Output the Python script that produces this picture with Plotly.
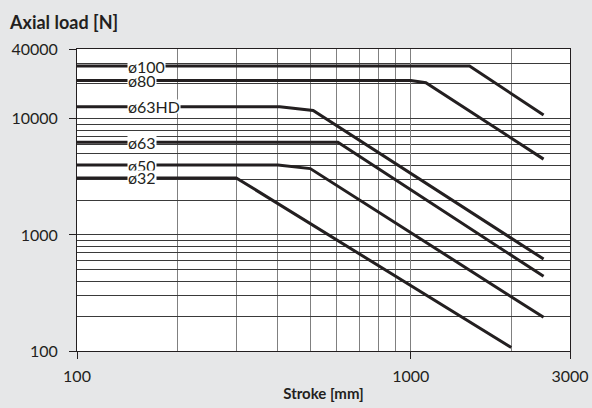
import math
import plotly.graph_objects as go

# ---- data ----
stroke_100 = [100, 1500, 2500]
load_100 = [28500, 28500, 10800]
stroke_80 = [100, 1000, 1110, 2500]
load_80 = [21400, 21400, 20500, 4500]
stroke_63hd = [100, 405, 510, 2500]
load_63hd = [12700, 12700, 11800, 620]
stroke_63 = [100, 605, 2500]
load_63 = [6300, 6300, 440]
stroke_50 = [100, 400, 500, 2500]
load_50 = [4000, 4000, 3730, 195]
stroke_32 = [100, 300, 2000]
load_32 = [3100, 3100, 107]

series = [
    ("ø100", stroke_100, load_100),
    ("ø80", stroke_80, load_80),
    ("ø63HD", stroke_63hd, load_63hd),
    ("ø63", stroke_63, load_63),
    ("ø50", stroke_50, load_50),
    ("ø32", stroke_32, load_32),
]

x_tickvals = [100, 1000, 3000]
x_ticktext = ["100", "1000", "3000"]
y_tickvals = [100, 1000, 10000, 40000]
y_ticktext = ["100", "1000", "10000", "40000"]
x_grid = [200, 300, 400, 500, 600, 700, 800, 900, 2000]
y_grid = [200, 300, 400, 500, 600, 700, 800, 900,
          2000, 3000, 4000, 5000, 6000, 7000, 8000, 9000,
          20000, 30000]

LINE = "#231f20"
FONT = "Lato"
W, H = 592, 408
ML, MR, MT, MB = 77, 22, 49, 57
PW, PH = W - ML - MR, H - MT - MB

fig = go.Figure()
for name, xs, ys in series:
    fig.add_trace(go.Scatter(x=xs, y=ys, mode="lines", name=name,
                             line=dict(color=LINE, width=3), showlegend=False))
    fig.add_annotation(x=math.log10(141), y=math.log10(ys[0]), xref="x", yref="y",
                       text=name, showarrow=False, xanchor="left", yanchor="middle",
                       bgcolor="white", borderpad=0, height=13,
                       font=dict(family=FONT, size=16, color=LINE))

# title of the y axis (top-left)
fig.add_annotation(x=(7 - ML) / PW, y=1 + (MT - 22) / PH, xref="paper", yref="paper",
                   text="<b>Axial load [N]</b>", showarrow=False,
                   xanchor="left", yanchor="middle",
                   font=dict(family=FONT, size=18, color=LINE))

fig.update_layout(
    width=W, height=H,
    margin=dict(l=ML, r=MR, t=MT, b=MB, autoexpand=False),
    paper_bgcolor="#e6e7e8",
    plot_bgcolor="white",
    font=dict(family=FONT, size=16, color=LINE),
)

fig.update_xaxes(
    type="log", range=[2, math.log10(3000)], automargin=False,
    tickvals=x_tickvals, ticktext=x_ticktext,
    ticks="outside", ticklen=7, tickcolor=LINE, tickwidth=1,
    ticklabelstandoff=4,
    showline=True, linecolor=LINE, linewidth=1, mirror=True,
    showgrid=True, gridcolor="#808080", gridwidth=1.4,
    minor=dict(tickvals=x_grid, showgrid=True, gridcolor="#808080", gridwidth=1.4, ticks=""),
    title=dict(text="<b>Stroke [mm]</b>", standoff=4,
               font=dict(family=FONT, size=15, color=LINE)),
    zeroline=False,
)
fig.update_yaxes(
    type="log", range=[2, math.log10(40000)], automargin=False,
    tickvals=y_tickvals, ticktext=y_ticktext,
    ticks="outside", ticklen=7, tickcolor=LINE, tickwidth=1,
    ticklabelstandoff=8,
    showline=True, linecolor=LINE, linewidth=1, mirror=True,
    showgrid=True, gridcolor="#3a3a3a", gridwidth=1,
    minor=dict(tickvals=y_grid, showgrid=True, gridcolor="#3a3a3a", gridwidth=1, ticks=""),
    zeroline=False,
)

fig.write_html("out.html", config={"displayModeBar": False},
               post_script="document.body.style.margin='0px';document.body.style.overflow='hidden';")
